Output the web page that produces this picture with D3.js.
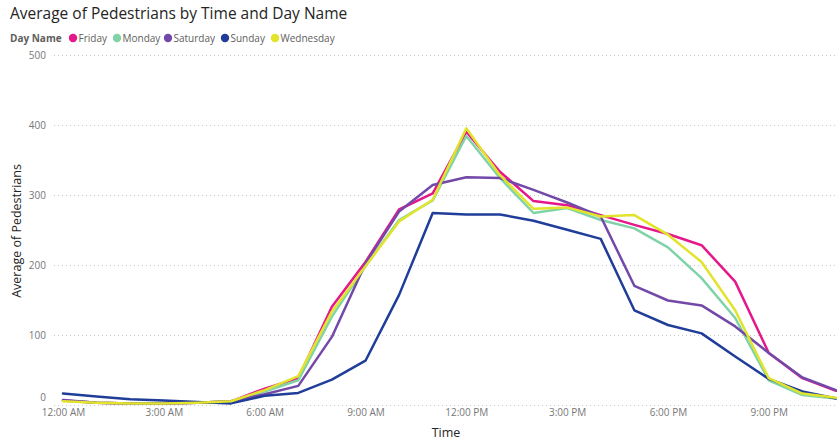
<!DOCTYPE html>
<html>
<head>
<meta charset="utf-8">
<script src="https://cdn.jsdelivr.net/npm/d3@7"></script>
<style>
  html, body { margin: 0; padding: 0; background: #fff; }
  svg { display: block; font-family: "Open Sans", "Noto Sans", sans-serif; }
</style>
</head>
<body>
<svg id="chart" width="837" height="442"></svg>
<script>
// Hour of day (0 = 12:00 AM ... 23 = 11:00 PM)
const hours = d3.range(0, 24);

const dayNames = ["Friday", "Monday", "Saturday", "Sunday", "Wednesday"];
const dayColors = ["#E5178B", "#80D3A8", "#7249A8", "#1F3D99", "#E2E42C"];

// Average pedestrians per hour, one array per day
const friday    = [7, 4, 3, 3, 4, 6, 24, 39, 141, 205, 280, 303, 391, 334, 292, 286, 272, 258, 245, 229, 177, 75, 39, 21];
const monday    = [7, 4, 3, 3, 4, 6, 20, 36, 127, 199, 265, 293, 385, 325, 275, 282, 265, 253, 226, 182, 125, 36, 15, 10];
const saturday  = [8, 4, 3, 3, 4, 6, 16, 28, 98, 203, 277, 315, 326, 325, 308, 290, 270, 171, 150, 143, 113, 75, 40, 22];
const sunday    = [17, 13, 9, 7, 5, 3, 14, 18, 37, 64, 158, 275, 273, 273, 264, 251, 238, 136, 115, 103, 70, 38, 20, 10];
const wednesday = [6, 4, 3, 3, 4, 6, 22, 42, 134, 199, 263, 294, 396, 329, 281, 283, 270, 272, 244, 205, 136, 39, 17, 11];
const seriesValues = [friday, monday, saturday, sunday, wednesday];

const xTickHours = [0, 3, 6, 9, 12, 15, 18, 21];
const xTickLabels = ["12:00 AM", "3:00 AM", "6:00 AM", "9:00 AM", "12:00 PM", "3:00 PM", "6:00 PM", "9:00 PM"];
const yTicks = [0, 100, 200, 300, 400, 500];

const svg = d3.select("#chart");

const x = d3.scaleLinear().domain([0, 23]).range([63, 836]);
const y = d3.scaleLinear().domain([0, 500]).range([405.5, 55.5]);

// Title
svg.append("text")
  .attr("x", 10).attr("y", 19)
  .attr("font-size", 15.5)
  .attr("fill", "#252423")
  .text("Average of Pedestrians by Time and Day Name");

// Legend
const legend = svg.append("g").attr("transform", "translate(10,38)");
legend.append("text")
  .attr("x", 0).attr("y", 3.5)
  .attr("font-size", 10).attr("font-weight", "bold")
  .attr("fill", "#605E5C")
  .text("Day Name");
const legendX = [73, 117, 168, 225, 275];
dayNames.forEach((name, i) => {
  const g = legend.append("g").attr("transform", `translate(${legendX[i] - 10},0)`);
  g.append("circle").attr("cx", 0).attr("cy", 0).attr("r", 4.2).attr("fill", dayColors[i]);
  g.append("text").attr("x", 5.5).attr("y", 3.5)
    .attr("font-size", 10).attr("fill", "#605E5C").text(name);
});

// Y gridlines and tick labels
const yAxis = d3.axisLeft(y).tickValues(yTicks).tickSize(0).tickPadding(0);
const yg = svg.append("g").attr("transform", "translate(46,0)").call(yAxis);
yg.select(".domain").remove();
yg.selectAll("text").attr("font-size", 10).attr("fill", "#777").attr("font-family", "\"Open Sans\", sans-serif");
// lift the zero label so it clears the time labels below it
yg.selectAll(".tick").filter(d => d === 0).select("text").attr("dy", "-0.55em");

svg.append("g").selectAll("line")
  .data(yTicks)
  .join("line")
  .attr("x1", 54).attr("x2", 837)
  .attr("y1", d => y(d)).attr("y2", d => y(d))
  .attr("stroke", "#C8C8C8")
  .attr("stroke-width", 1)
  .attr("stroke-dasharray", "1,3");

// X axis tick labels
const xAxis = d3.axisBottom(x)
  .tickValues(xTickHours)
  .tickFormat((d, i) => xTickLabels[i])
  .tickSize(0).tickPadding(0);
const xg = svg.append("g").attr("transform", "translate(0,409)").call(xAxis);
xg.select(".domain").remove();
xg.selectAll("text").attr("font-size", 10).attr("fill", "#777").attr("font-family", "\"Open Sans\", sans-serif");

// Axis titles
svg.append("text")
  .attr("x", 446).attr("y", 437)
  .attr("text-anchor", "middle")
  .attr("font-size", 12.5).attr("fill", "#252423")
  .text("Time");
svg.append("text")
  .attr("transform", "translate(21,231) rotate(-90)")
  .attr("text-anchor", "middle")
  .attr("font-size", 12.5).attr("fill", "#252423")
  .text("Average of Pedestrians");

// Lines
const line = d3.line()
  .x((d, i) => x(hours[i]))
  .y(d => y(d));

svg.append("g").selectAll("path")
  .data(seriesValues)
  .join("path")
  .attr("d", d => line(d))
  .attr("fill", "none")
  .attr("stroke", (d, i) => dayColors[i])
  .attr("stroke-width", 2.5)
  .attr("stroke-linejoin", "round")
  .attr("stroke-linecap", "round");
</script>
</body>
</html>
